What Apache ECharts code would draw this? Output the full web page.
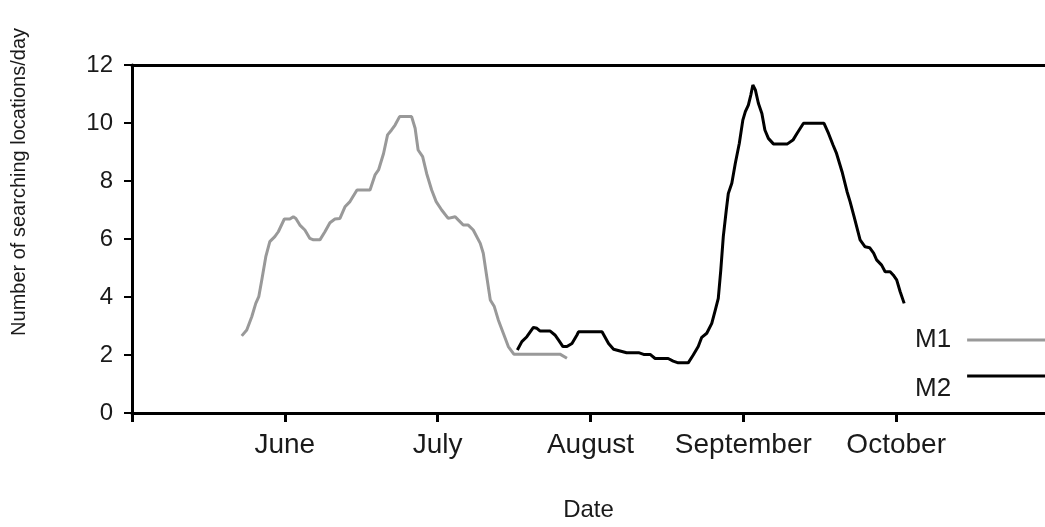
<!DOCTYPE html>
<html>
<head>
<meta charset="utf-8">
<script src="https://cdn.jsdelivr.net/npm/echarts@6/dist/echarts.min.js"></script>
<style>
  html, body { margin: 0; padding: 0; background: #fff; }
  #chart { width: 1045px; height: 527px; }
</style>
</head>
<body>
<div id="chart"></div>
<script>
// Days counted from 1 May (one axis interval = one month of 30.5 days)
const monthLabels = ['', 'June', 'July', 'August', 'September', 'October', ''];
const monthStarts = [0, 30.5, 61, 91.5, 122, 152.5];

const m1Day = [21.9,22.9,23.9,24.7,25.3,25.9,26.7,27.5,28.5,29.2,30.4,31.5,32.2,32.7,33.5,34.5,35.5,36.2,37.5,38.5,39.5,40.5,41.5,42.5,43.5,44.9,47.5,48.5,49.2,50.2,51.0,51.8,52.5,53.4,55.8,56.5,57.1,58.0,58.8,59.8,60.7,61.8,63.1,64.5,65.1,66.1,67.1,68.1,69.5,70.1,70.8,71.5,72.3,73.1,74.1,75.1,76.2,85.4,86.8];
const m1Val = [2.66,2.86,3.32,3.78,4.01,4.59,5.39,5.91,6.08,6.25,6.69,6.69,6.77,6.71,6.48,6.31,6.02,5.97,5.97,6.25,6.56,6.69,6.71,7.11,7.29,7.69,7.69,8.21,8.38,8.95,9.59,9.76,9.93,10.22,10.22,9.82,9.07,8.84,8.26,7.69,7.29,7.0,6.71,6.77,6.66,6.48,6.48,6.31,5.85,5.51,4.7,3.90,3.67,3.21,2.75,2.29,2.03,2.03,1.89];

const m2Day = [76.9,77.8,78.8,80.1,80.8,81.4,83.4,84.4,85.1,86.0,86.8,87.8,88.8,89.1,93.8,95.1,96.1,98.7,101.1,102.1,103.4,104.4,107.0,108.0,109.0,111.0,112.0,113.0,113.7,114.7,115.7,116.4,117.0,117.5,118.0,118.6,119.0,119.7,120.4,121.2,121.9,122.4,123.0,123.5,123.9,124.4,125.0,125.7,126.3,127.0,128.0,130.8,131.9,132.7,134.0,138.1,139.0,139.9,140.6,141.7,142.7,143.3,144.1,145.3,146.3,147.2,148.0,148.6,149.6,150.3,151.3,151.9,152.6,153.3,154.1];
const m2Val = [2.17,2.46,2.63,2.95,2.92,2.83,2.83,2.69,2.52,2.29,2.29,2.40,2.69,2.80,2.80,2.40,2.20,2.08,2.08,2.02,2.02,1.88,1.88,1.79,1.73,1.73,2.0,2.29,2.61,2.75,3.09,3.55,3.95,4.93,6.08,7.0,7.57,7.92,8.61,9.30,10.10,10.39,10.62,10.97,11.31,11.14,10.68,10.33,9.76,9.47,9.28,9.28,9.41,9.64,9.99,9.99,9.64,9.24,8.95,8.32,7.63,7.29,6.77,5.97,5.73,5.70,5.51,5.28,5.10,4.87,4.87,4.76,4.59,4.18,3.78];

const FONT = "'Liberation Sans', Arial, sans-serif";
const TEXT = '#1a1a1a';
const pairs = (xs, ys) => xs.map((x, i) => [x, ys[i]]);

const chart = echarts.init(document.getElementById('chart'), null, { renderer: 'canvas' });

// the plot runs off the right edge, so the visible range ends a little before day 183
const X_MAX = 182.2;

chart.setOption({
  animation: false,
  backgroundColor: '#fff',
  grid: { left: 132, top: 65, right: 0, bottom: 114, show: false, outerBoundsMode: 'none' },
  xAxis: [
    {
      type: 'value', min: 0, max: X_MAX, interval: 30.5,
      name: 'Date', nameLocation: 'middle', nameGap: 85,
      nameTextStyle: { fontFamily: FONT, fontSize: 24, color: TEXT },
      axisLine: { show: true, lineStyle: { color: '#000', width: 3 } },
      axisTick: {
        show: true, inside: false, length: 9, customValues: monthStarts,
        lineStyle: { color: '#000', width: 3 }
      },
      axisLabel: {
        margin: 18, fontFamily: FONT, fontSize: 28, color: TEXT, customValues: monthStarts,
        formatter: v => monthLabels[Math.round(v / 30.5)] || ''
      },
      splitLine: { show: false }
    },
    {
      // top frame line
      type: 'value', position: 'top', min: 0, max: X_MAX,
      axisLine: { show: true, lineStyle: { color: '#000', width: 3 } },
      axisTick: { show: false }, axisLabel: { show: false }, splitLine: { show: false }
    }
  ],
  yAxis: {
    type: 'value', min: 0, max: 12, interval: 2,
    axisLine: { show: true, lineStyle: { color: '#000', width: 3 } },
    axisTick: { show: true, inside: false, length: 8, lineStyle: { color: '#000', width: 2 } },
    axisLabel: { margin: 19, fontFamily: FONT, fontSize: 24, color: TEXT },
    splitLine: { show: false }
  },
  legend: [
    {
      orient: 'vertical', left: 915, top: 327, align: 'right', padding: 0,
      itemWidth: 78, itemHeight: 3,
      textStyle: { fontFamily: FONT, fontSize: 26, lineHeight: 26, color: TEXT, padding: [0, 11, 0, 0] },
      data: [{ name: 'M1', icon: 'rect' }]
    },
    {
      orient: 'vertical', left: 915, top: 350, align: 'right', padding: 0,
      itemWidth: 78, itemHeight: 3,
      formatter: '\n{name}',
      textStyle: { fontFamily: FONT, fontSize: 26, lineHeight: 26, color: TEXT, padding: [0, 11, 0, 0] },
      data: [{ name: 'M2', icon: 'rect' }]
    }
  ],
  graphic: [
    {
      type: 'text', left: 9, top: 28, rotation: Math.PI / 2,
      style: {
        text: 'Number of searching locations/day',
        font: "20px 'Liberation Sans', Arial, sans-serif",
        fill: TEXT
      }
    }
  ],
  series: [
    {
      name: 'M1', type: 'line', data: pairs(m1Day, m1Val),
      showSymbol: false, symbol: 'none',
      lineStyle: { color: '#999999', width: 3 }, itemStyle: { color: '#999999' }
    },
    {
      name: 'M2', type: 'line', data: pairs(m2Day, m2Val),
      showSymbol: false, symbol: 'none',
      lineStyle: { color: '#000000', width: 3 }, itemStyle: { color: '#000000' }
    }
  ]
});
</script>
</body>
</html>
